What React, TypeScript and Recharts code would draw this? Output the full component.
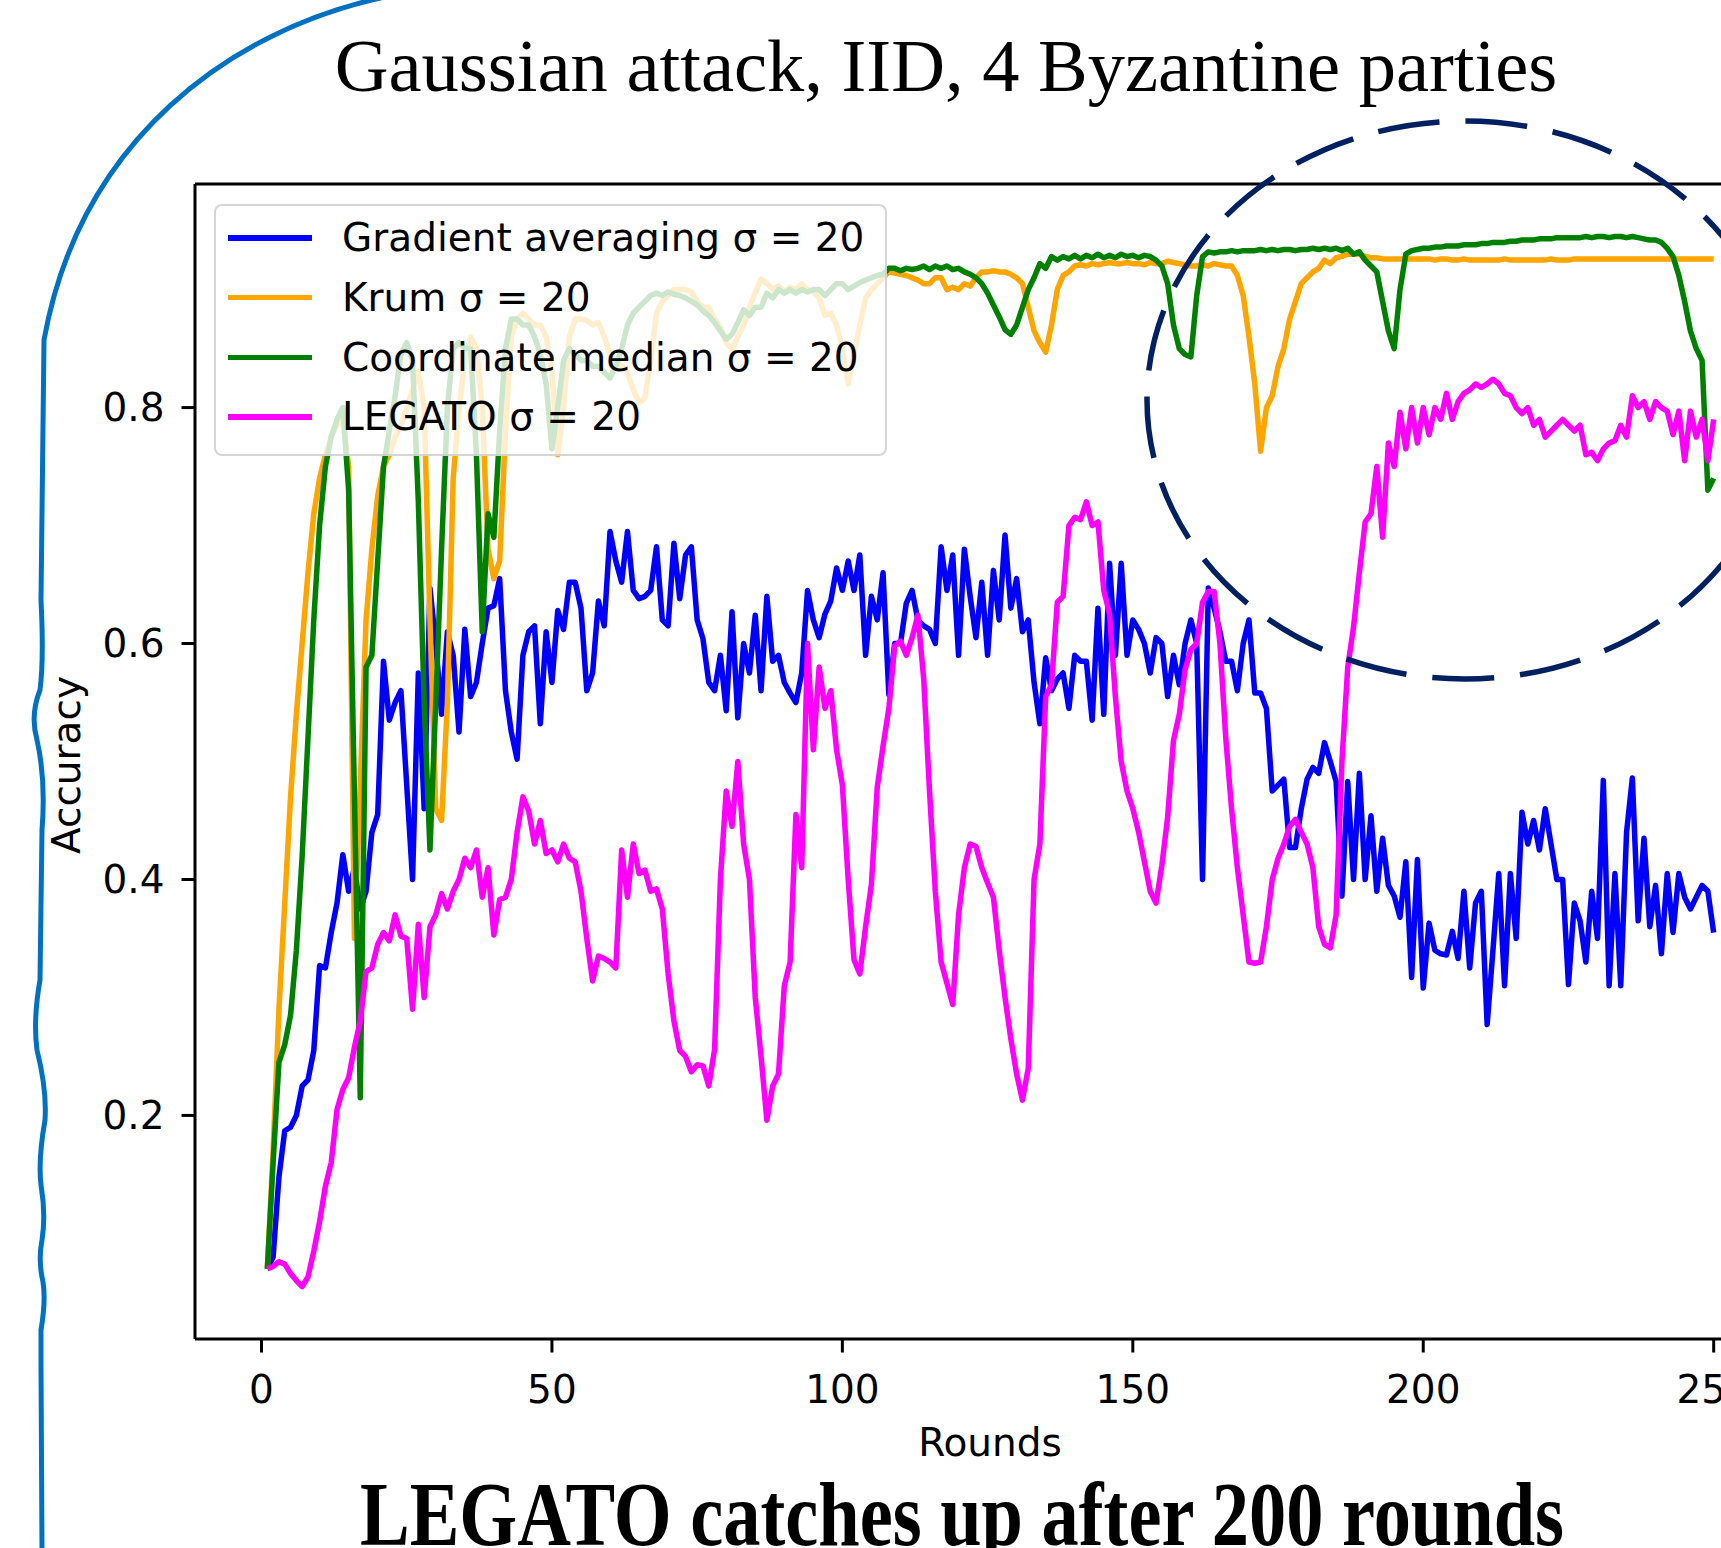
import React from 'react';
import { LineChart, Line, XAxis, YAxis, Legend, ReferenceLine } from 'recharts';

const rounds: number[] = Array.from({ length: 250 }, (_, i) => i + 1);

const gradAvg = [
  0.07, 0.08, 0.148, 0.187, 0.19, 0.2, 0.225, 0.23, 0.255, 0.327,
  0.325, 0.355, 0.38, 0.421, 0.39, 0.41, 0.375, 0.39, 0.44, 0.455,
  0.585, 0.535, 0.55, 0.56, 0.48, 0.4, 0.575, 0.46, 0.647, 0.6,
  0.54, 0.61, 0.59, 0.525, 0.612, 0.555, 0.567, 0.6, 0.63, 0.632,
  0.655, 0.56, 0.525, 0.502, 0.59, 0.61, 0.615, 0.532, 0.61, 0.567,
  0.628, 0.612, 0.652, 0.652, 0.63, 0.56, 0.575, 0.636, 0.615, 0.695,
  0.67, 0.652, 0.695, 0.645, 0.638, 0.64, 0.645, 0.682, 0.62, 0.615,
  0.685, 0.638, 0.675, 0.682, 0.62, 0.604, 0.567, 0.56, 0.59, 0.543,
  0.627, 0.537, 0.6, 0.575, 0.624, 0.56, 0.64, 0.585, 0.59, 0.567,
  0.558, 0.55, 0.575, 0.645, 0.62, 0.605, 0.625, 0.636, 0.664, 0.645,
  0.67, 0.645, 0.675, 0.59, 0.64, 0.62, 0.66, 0.557, 0.6, 0.6,
  0.634, 0.645, 0.62, 0.615, 0.612, 0.6, 0.682, 0.645, 0.675, 0.59,
  0.68, 0.64, 0.605, 0.652, 0.59, 0.662, 0.62, 0.692, 0.63, 0.655,
  0.61, 0.62, 0.567, 0.532, 0.588, 0.56, 0.57, 0.575, 0.545, 0.59,
  0.585, 0.585, 0.535, 0.63, 0.54, 0.668, 0.59, 0.668, 0.59, 0.62,
  0.612, 0.6, 0.575, 0.605, 0.6, 0.555, 0.59, 0.565, 0.6, 0.62,
  0.6, 0.4, 0.647, 0.63, 0.61, 0.585, 0.585, 0.56, 0.6, 0.62,
  0.558, 0.558, 0.545, 0.475, 0.48, 0.485, 0.427, 0.427, 0.46, 0.485,
  0.495, 0.49, 0.516, 0.5, 0.483, 0.386, 0.483, 0.4, 0.49, 0.4,
  0.454, 0.39, 0.435, 0.395, 0.386, 0.368, 0.415, 0.317, 0.417, 0.308,
  0.363, 0.34, 0.337, 0.336, 0.356, 0.333, 0.39, 0.325, 0.38, 0.39,
  0.277, 0.34, 0.405, 0.31, 0.405, 0.35, 0.457, 0.43, 0.45, 0.425,
  0.46, 0.43, 0.4, 0.4, 0.311, 0.38, 0.365, 0.33, 0.39, 0.35,
  0.484, 0.31, 0.405, 0.31, 0.44, 0.486, 0.365, 0.435, 0.36, 0.395,
  0.337, 0.405, 0.355, 0.405, 0.385, 0.375, 0.385, 0.395, 0.39, 0.355,
];

const krum = [
  0.07, 0.17, 0.29, 0.38, 0.47, 0.54, 0.6, 0.66, 0.71, 0.74,
  0.76, 0.775, 0.785, 0.79, 0.75, 0.35, 0.48, 0.62, 0.68, 0.725,
  0.75, 0.76, 0.775, 0.785, 0.8, 0.815, 0.83, 0.8, 0.62, 0.46,
  0.45, 0.55, 0.74, 0.8, 0.84, 0.86, 0.85, 0.8, 0.68, 0.655,
  0.67, 0.78, 0.86, 0.875, 0.88, 0.875, 0.87, 0.87, 0.86, 0.83,
  0.76, 0.8, 0.86, 0.875, 0.875, 0.874, 0.87, 0.872, 0.86, 0.845,
  0.84, 0.835, 0.83, 0.815, 0.804, 0.808, 0.84, 0.88, 0.89, 0.895,
  0.9, 0.9, 0.9, 0.898, 0.89, 0.885, 0.885, 0.875, 0.868, 0.855,
  0.849, 0.86, 0.87, 0.885, 0.897, 0.909, 0.905, 0.9, 0.903, 0.898,
  0.902, 0.9, 0.905, 0.9, 0.898, 0.893, 0.878, 0.88, 0.87, 0.85,
  0.82, 0.845, 0.87, 0.893, 0.9, 0.905, 0.91, 0.915, 0.914, 0.913,
  0.912, 0.91, 0.908, 0.905, 0.905, 0.91, 0.91, 0.9, 0.902, 0.9,
  0.905, 0.903, 0.91, 0.915, 0.915, 0.916, 0.915, 0.915, 0.913, 0.91,
  0.905, 0.885, 0.865, 0.855, 0.847, 0.87, 0.9, 0.912, 0.915, 0.92,
  0.921, 0.92, 0.922, 0.921, 0.922, 0.923, 0.922, 0.922, 0.923, 0.922,
  0.922, 0.921, 0.923, 0.922, 0.922, 0.924, 0.923, 0.922, 0.921, 0.92,
  0.92, 0.921, 0.92, 0.922, 0.921, 0.92, 0.92, 0.912, 0.895, 0.86,
  0.82, 0.763, 0.8, 0.81, 0.835, 0.85, 0.875, 0.89, 0.905, 0.91,
  0.915, 0.918, 0.925, 0.922, 0.927, 0.928, 0.93, 0.93, 0.93, 0.928,
  0.927, 0.927, 0.926, 0.926, 0.926, 0.926, 0.926, 0.926, 0.926, 0.926,
  0.926, 0.925, 0.926, 0.926, 0.925, 0.925, 0.926, 0.925, 0.925, 0.925,
  0.925, 0.925, 0.925, 0.926, 0.925, 0.925, 0.925, 0.925, 0.925, 0.925,
  0.925, 0.926, 0.925, 0.925, 0.925, 0.926, 0.926, 0.926, 0.926, 0.926,
  0.926, 0.926, 0.926, 0.926, 0.926, 0.926, 0.926, 0.926, 0.926, 0.926,
  0.926, 0.926, 0.926, 0.926, 0.926, 0.926, 0.926, 0.926, 0.926, 0.926,
];

const coordMed = [
  0.07, 0.16, 0.245, 0.26, 0.285, 0.34, 0.42, 0.52, 0.62, 0.7,
  0.75, 0.775, 0.79, 0.8, 0.73, 0.47, 0.215, 0.58, 0.59, 0.67,
  0.75, 0.78, 0.81, 0.845, 0.855, 0.84, 0.72, 0.55, 0.425, 0.55,
  0.68, 0.8, 0.85, 0.855, 0.85, 0.85, 0.76, 0.61, 0.71, 0.69,
  0.78, 0.85, 0.875, 0.875, 0.87, 0.87, 0.86, 0.845, 0.82, 0.765,
  0.8, 0.84, 0.85, 0.845, 0.84, 0.84, 0.835, 0.835, 0.83, 0.825,
  0.835, 0.85, 0.87, 0.88, 0.885, 0.89, 0.895, 0.897, 0.895, 0.898,
  0.896, 0.895, 0.893, 0.89, 0.887, 0.882, 0.878, 0.872, 0.865, 0.858,
  0.862, 0.872, 0.883, 0.878, 0.885, 0.885, 0.897, 0.893, 0.9, 0.897,
  0.9, 0.897, 0.9, 0.898, 0.9, 0.9, 0.895, 0.9, 0.905, 0.905,
  0.9, 0.903, 0.906, 0.908, 0.91, 0.912, 0.913, 0.918, 0.918, 0.916,
  0.918, 0.917, 0.918, 0.92, 0.917, 0.92, 0.918, 0.92, 0.917, 0.918,
  0.915, 0.913, 0.91, 0.905, 0.897, 0.887, 0.877, 0.866, 0.862, 0.87,
  0.885, 0.9, 0.91, 0.922, 0.918, 0.928, 0.925, 0.928, 0.926, 0.929,
  0.926, 0.929, 0.927, 0.93, 0.927, 0.929, 0.927, 0.93, 0.928, 0.929,
  0.927, 0.929, 0.928, 0.925, 0.92, 0.905, 0.87, 0.85, 0.845, 0.843,
  0.895, 0.928, 0.932, 0.931, 0.932, 0.932, 0.933, 0.932, 0.933, 0.933,
  0.933, 0.934, 0.933, 0.934, 0.933, 0.934, 0.934, 0.933, 0.934, 0.934,
  0.935, 0.934, 0.935, 0.934, 0.935, 0.933, 0.935, 0.93, 0.932, 0.925,
  0.92, 0.915, 0.89, 0.865, 0.85, 0.9, 0.93, 0.933, 0.934, 0.935,
  0.935, 0.936, 0.936, 0.937, 0.937, 0.937, 0.938, 0.938, 0.938, 0.939,
  0.939, 0.94, 0.94, 0.94, 0.941, 0.941, 0.942, 0.942, 0.942, 0.943,
  0.943, 0.943, 0.944, 0.944, 0.944, 0.944, 0.944, 0.945, 0.944, 0.945,
  0.945, 0.944, 0.945, 0.945, 0.944, 0.945, 0.944, 0.943, 0.942, 0.942,
  0.94, 0.935, 0.928, 0.912, 0.89, 0.865, 0.85, 0.84, 0.73, 0.74,
];

const legato = [
  0.07, 0.072, 0.076, 0.074, 0.066, 0.06, 0.055, 0.063, 0.085, 0.11,
  0.14, 0.16, 0.205, 0.222, 0.232, 0.258, 0.28, 0.322, 0.325, 0.345,
  0.355, 0.348, 0.37, 0.352, 0.35, 0.29, 0.362, 0.3, 0.36, 0.37,
  0.388, 0.375, 0.39, 0.4, 0.418, 0.41, 0.425, 0.385, 0.41, 0.353,
  0.383, 0.385, 0.4, 0.44, 0.47, 0.458, 0.43, 0.45, 0.422, 0.425,
  0.415, 0.43, 0.418, 0.415, 0.39, 0.35, 0.314, 0.335, 0.333, 0.33,
  0.325, 0.425, 0.385, 0.43, 0.405, 0.408, 0.39, 0.392, 0.375, 0.32,
  0.28, 0.255, 0.25, 0.237, 0.243, 0.242, 0.225, 0.256, 0.4, 0.475,
  0.445, 0.5, 0.43, 0.4, 0.3, 0.25, 0.196, 0.225, 0.235, 0.31,
  0.33, 0.455, 0.41, 0.6, 0.51, 0.58, 0.545, 0.56, 0.51, 0.48,
  0.4, 0.332, 0.32, 0.36, 0.396, 0.478, 0.513, 0.545, 0.598, 0.602,
  0.59, 0.605, 0.624, 0.57, 0.475, 0.39, 0.33, 0.312, 0.294, 0.37,
  0.41, 0.43, 0.428, 0.41, 0.397, 0.385, 0.34, 0.3, 0.265, 0.235,
  0.213, 0.24, 0.4, 0.43, 0.555, 0.565, 0.635, 0.64, 0.7, 0.707,
  0.705, 0.72, 0.7, 0.703, 0.645, 0.625, 0.555, 0.5, 0.475, 0.46,
  0.44, 0.415, 0.39, 0.38, 0.412, 0.453, 0.518, 0.54, 0.578, 0.595,
  0.6, 0.635, 0.644, 0.644, 0.6, 0.52, 0.46, 0.41, 0.37, 0.33,
  0.329, 0.33, 0.36, 0.4, 0.418, 0.43, 0.445, 0.451, 0.44, 0.43,
  0.41, 0.36, 0.345, 0.342, 0.37, 0.5, 0.58, 0.614, 0.66, 0.703,
  0.71, 0.75, 0.69, 0.77, 0.75, 0.796, 0.765, 0.8, 0.77, 0.8,
  0.777, 0.8, 0.79, 0.812, 0.79, 0.805, 0.812, 0.815, 0.82, 0.817,
  0.82, 0.824, 0.82, 0.812, 0.81, 0.8, 0.795, 0.8, 0.785, 0.79,
  0.775, 0.78, 0.785, 0.79, 0.785, 0.78, 0.785, 0.76, 0.762, 0.755,
  0.765, 0.77, 0.772, 0.785, 0.775, 0.81, 0.8, 0.805, 0.79, 0.805,
  0.8, 0.797, 0.777, 0.797, 0.755, 0.797, 0.775, 0.79, 0.755, 0.79,
];

const xTicks = [0, 50, 100, 150, 200, 250];
const yTicks = [0.2, 0.4, 0.6, 0.8];
const xDomain = [-11.45, 262.45];
const yDomain = [0.0105, 0.9895];

const seriesKeys = ['gradAvg', 'krum', 'coordMed', 'legato'];
const seriesNames = [
  'Gradient averaging σ = 20',
  'Krum σ = 20',
  'Coordinate median σ = 20',
  'LEGATO σ = 20',
];
const seriesColors = ['#0000ff', '#ffa500', '#008000', '#ff00ff'];

const titleText = 'Gaussian attack, IID, 4 Byzantine parties';
const captionText = 'LEGATO catches up after 200 rounds';
const xLabel = 'Rounds';
const yLabel = 'Accuracy';

const data = rounds.map((r, i) => ({
  round: r,
  gradAvg: gradAvg[i],
  krum: krum[i],
  coordMed: coordMed[i],
  legato: legato[i],
}));

const SANS = '"DejaVu Sans", sans-serif';
const SERIF = '"Liberation Serif", "Times New Roman", serif';

const LegendBox = () => (
  <div
    style={{
      position: 'relative',
      width: 673,
      height: 252,
      boxSizing: 'border-box',
      background: 'rgba(255,255,255,0.8)',
      border: '2.5px solid rgba(204,204,204,0.8)',
      borderRadius: 8,
      fontFamily: SANS,
      fontSize: 39,
      color: '#000',
    }}
  >
    {seriesNames.map((name, i) => (
      <div key={name}>
        <div
          style={{
            position: 'absolute',
            left: 12,
            top: 29 + i * 59.8,
            width: 84,
            height: 5.5,
            background: seriesColors[i],
          }}
        />
        <div
          style={{
            position: 'absolute',
            left: 126,
            top: 32 + i * 59.8 - 24,
            lineHeight: '48px',
            whiteSpace: 'nowrap',
          }}
        >
          {name}
        </div>
      </div>
    ))}
  </div>
);

export default function App() {
  return (
    <div
      style={{
        position: 'absolute',
        left: 0,
        top: 0,
        width: 1721,
        height: 1548,
        overflow: 'hidden',
        background: '#fff',
      }}
    >
      <LineChart
        width={1800}
        height={1548}
        data={data}
        margin={{ top: 184, right: 14, bottom: 129, left: 95 }}
      >
        <XAxis
          dataKey="round"
          type="number"
          domain={xDomain}
          ticks={xTicks}
          allowDataOverflow
          height={80}
          tickSize={13.5}
          tickMargin={23}
          axisLine={{ stroke: '#000', strokeWidth: 3 }}
          tickLine={{ stroke: '#000', strokeWidth: 3 }}
          tick={{ fontSize: 39, fill: '#000', fontFamily: SANS }}
        />
        <YAxis
          type="number"
          domain={yDomain}
          ticks={yTicks}
          allowDataOverflow
          width={100}
          tickSize={13.5}
          tickMargin={17}
          tickFormatter={(v: number) => v.toFixed(1)}
          axisLine={{ stroke: '#000', strokeWidth: 3 }}
          tickLine={{ stroke: '#000', strokeWidth: 3 }}
          tick={{ fontSize: 39, fill: '#000', fontFamily: SANS }}
        />
        <ReferenceLine
          y={yDomain[1]}
          stroke="#000"
          strokeWidth={3}
          ifOverflow="visible"
        />
        {seriesKeys.map((k, i) => (
          <Line
            key={k}
            dataKey={k}
            name={seriesNames[i]}
            type="linear"
            stroke={seriesColors[i]}
            strokeWidth={5.5}
            strokeLinejoin="round"
            dot={false}
            activeDot={false}
            isAnimationActive={false}
          />
        ))}
        <Legend
          layout="horizontal"
          verticalAlign="middle"
          align="center"
          wrapperStyle={{ position: 'absolute', left: 214, top: 204, width: 673, height: 252 }}
          content={() => <LegendBox />}
        />
      </LineChart>
      <svg
        width={1721}
        height={1548}
        style={{ position: 'absolute', left: 0, top: 0, pointerEvents: 'none' }}
      >
        <text
          x={946}
          y={91}
          textAnchor="middle"
          fontFamily={SERIF}
          fontSize={74.5}
          fill="#000"
        >
          {titleText}
        </text>
        <text
          x={990}
          y={1456}
          textAnchor="middle"
          fontFamily={SANS}
          fontSize={39}
          fill="#000"
        >
          {xLabel}
        </text>
        <text
          x={0}
          y={0}
          transform="translate(80 765) rotate(-90)"
          textAnchor="middle"
          fontFamily={SANS}
          fontSize={39}
          fill="#000"
        >
          {yLabel}
        </text>
        <text
          x={360}
          y={1545}
          fontFamily={SERIF}
          fontWeight="bold"
          fontSize={92}
          textLength={1204}
          lengthAdjust="spacingAndGlyphs"
          fill="#000"
        >
          {captionText}
        </text>
        <ellipse
          cx={1465}
          cy={400}
          rx={318}
          ry={279}
          fill="none"
          stroke="#002060"
          strokeWidth={5.5}
          strokeDasharray="62 26"
        />
        <path
          d="M 385 -3 C 230 30, 80 140, 44 340 L 41 600 Q 44 660 40 690 Q 30 715 37 740 Q 46 780 42 830 L 40 980 Q 33 1020 37 1050 Q 47 1090 45 1120 Q 38 1160 41 1185 Q 46 1215 42 1240 Q 38 1260 43 1282 Q 46 1300 41 1330 L 41 1365 L 42 1550"
          fill="none"
          stroke="#0070c0"
          strokeWidth={5}
          strokeLinecap="round"
        />
      </svg>
    </div>
  );
}
